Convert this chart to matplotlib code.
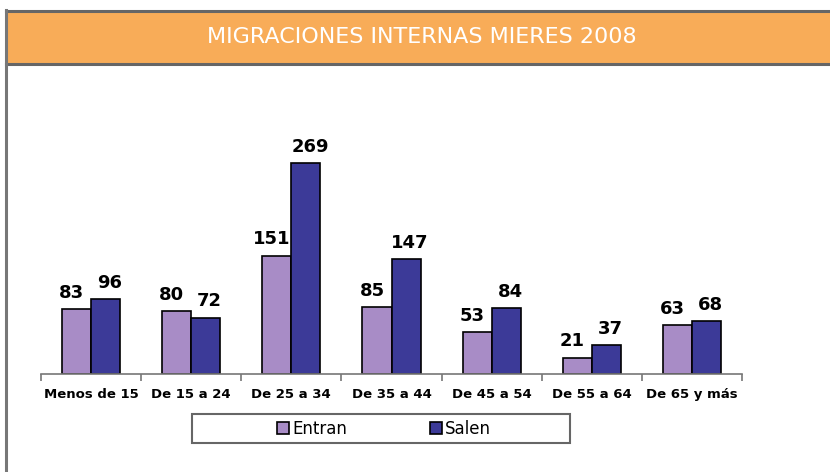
import numpy as np
import matplotlib.pyplot as plt
from matplotlib.patches import Rectangle

categorias = ["Menos de 15", "De 15 a 24", "De 25 a 34", "De 35 a 44",
              "De 45 a 54", "De 55 a 64", "De 65 y más"]
entran = [83, 80, 151, 85, 53, 21, 63]
salen = [96, 72, 269, 147, 84, 37, 68]

W, H = 830, 472
fig = plt.figure(figsize=(W / 100, H / 100), dpi=100)
fig.patch.set_facecolor("white")

# cabecera naranja con borde gris
fig.patches.append(Rectangle((6 / W, 1 - 64 / H), 1, 54 / H, transform=fig.transFigure,
                             facecolor="#F8AC58", edgecolor="none"))
fig.add_artist(plt.Line2D([6 / W, 1], [1 - 11 / H, 1 - 11 / H], color="#666666", lw=2.2))
fig.add_artist(plt.Line2D([6 / W, 1], [1 - 64 / H, 1 - 64 / H], color="#666666", lw=2.2))
fig.add_artist(plt.Line2D([6 / W, 6 / W], [0, 1 - 10 / H], color="#777777", lw=2.2))
fig.text(422 / W, 1 - 37 / H, "MIGRACIONES INTERNAS MIERES 2008", color="white",
         fontsize=16, ha="center", va="center")

ax = fig.add_axes([41 / W, 98 / H, 701 / W, 244 / H])
x = np.arange(len(categorias))
w = 0.29
b1 = ax.bar(x - w / 2, entran, w, color="#A88CC6", edgecolor="black", lw=1.2, label="Entran")
b2 = ax.bar(x + w / 2, salen, w, color="#3C3A98", edgecolor="black", lw=1.2, label="Salen")

# etiquetas un poco desplazadas hacia fuera, como en el original
for bars, vals, dx in [(b1, entran, -0.05), (b2, salen, 0.04)]:
    for r, v in zip(bars, vals):
        ax.text(r.get_x() + r.get_width() / 2 + dx, v + 9, str(v), ha="center", va="bottom",
                fontsize=13, fontweight="bold")

ax.set_xlim(-0.5, len(categorias) - 0.5)
ax.set_ylim(0, 311)
for s in ["top", "right", "left"]:
    ax.spines[s].set_visible(False)
ax.spines["bottom"].set_color("#777777")
ax.spines["bottom"].set_linewidth(1.2)
ax.set_yticks([])
ax.set_xticks(x)
ax.set_xticklabels(categorias, fontsize=9.5, fontweight="bold")
ax.tick_params(axis="x", length=0, pad=10)
ax.set_xticks(np.arange(len(categorias) + 1) - 0.5, minor=True)
ax.tick_params(axis="x", which="minor", length=5, color="#777777", width=1.2)

# marco de la leyenda dibujado aparte
fig.patches.append(Rectangle((192 / W, 1 - 443 / H), 378 / W, 29 / H, transform=fig.transFigure,
                             facecolor="none", edgecolor="#666666", lw=1.5))
leg = ax.legend(loc="center", bbox_to_anchor=(384 / W, 1 - 429 / H), bbox_transform=fig.transFigure,
                ncol=2, frameon=False, fontsize=12, handlelength=0.7,
                handleheight=0.7, handletextpad=0.2, columnspacing=5)

fig.savefig("out.png", dpi=100)
